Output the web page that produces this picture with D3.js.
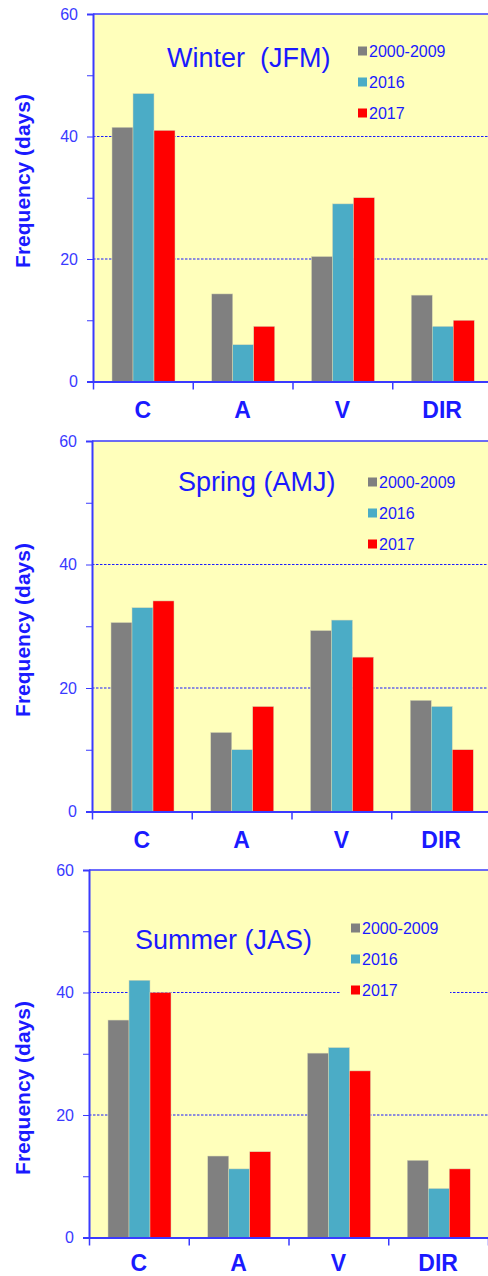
<!DOCTYPE html>
<html>
<head>
<meta charset="utf-8">
<script src="https://cdn.jsdelivr.net/npm/d3@7"></script>
<style>
  body { margin: 0; background: #fff; }
  svg { display: block; font-family: Arial, "Liberation Sans", sans-serif; }
</style>
</head>
<body>
<div id="chart"></div>
<script>
// data
var categories = ["C", "A", "V", "DIR"];
var seriesNames = ["2000-2009", "2016", "2017"];
var seriesColors = ["#808080", "#4bacc6", "#ff0000"];
var yTicks = [0, 20, 40, 60];

var winterBase = [41.5, 14.3, 20.4, 14.1];
var winter2016 = [47, 6, 29, 9];
var winter2017 = [41, 9, 30, 10];

var springBase = [30.6, 12.8, 29.3, 18];
var spring2016 = [33, 10, 31, 17];
var spring2017 = [34.1, 17, 25, 10];

var summerBase = [35.5, 13.3, 30.1, 12.6];
var summer2016 = [42, 11.2, 31, 8];
var summer2017 = [40, 14, 27.2, 11.2];

var blue = "#1a1aff";

var svg = d3.select("#chart").append("svg")
    .attr("width", 488)
    .attr("height", 1276);

// one panel per season
var panels = [
  {title: "Winter  (JFM)", values: [winterBase, winter2016, winter2017],
   top: 14, bottom: 381.5, left: 93, titleX: 167, titleY: 67,
   legX: 358, legY: 51, ytitle: 181, catY: 36, legBox: false},
  {title: "Spring (AMJ)", values: [springBase, spring2016, spring2017],
   top: 441, bottom: 811.5, left: 92, titleX: 178, titleY: 491,
   legX: 368, legY: 482, ytitle: 630, catY: 36, legBox: false},
  {title: "Summer (JAS)", values: [summerBase, summer2016, summer2017],
   top: 870, bottom: 1237.5, left: 89, titleX: 135, titleY: 949,
   legX: 351, legY: 928, ytitle: 1088, catY: 33, legBox: true}
];

panels.forEach(function(p) {
  var w = 399;
  var g = svg.append("g").attr("transform", "translate(" + p.left + ",0)");

  var y = d3.scaleLinear().domain([0, 60]).range([p.bottom, p.top]);
  var x = d3.scaleBand().domain(categories).range([0, w]);
  var x1 = d3.scaleBand().domain(seriesNames).range([19, 82]);

  // plot background
  g.append("rect")
    .attr("x", 0).attr("y", p.top)
    .attr("width", w).attr("height", p.bottom - p.top)
    .attr("fill", "#ffffbb");

  // dashed grid at 20 and 40
  g.selectAll(".grid")
    .data([20, 40])
    .enter().append("line")
    .attr("x1", 0).attr("x2", w)
    .attr("y1", function(d) { return y(d); })
    .attr("y2", function(d) { return y(d); })
    .attr("stroke", blue)
    .attr("stroke-width", 1)
    .attr("stroke-dasharray", "2.5,1.5");

  // top border
  g.append("line")
    .attr("x1", 0).attr("x2", w)
    .attr("y1", p.top).attr("y2", p.top)
    .attr("stroke", "#3a3aff").attr("stroke-width", 1.5);

  // bars
  var rows = categories.map(function(c, i) {
    return seriesNames.map(function(s, j) {
      return {cat: c, name: s, value: p.values[j][i], color: seriesColors[j]};
    });
  });
  g.selectAll(".grp")
    .data(rows)
    .enter().append("g")
    .attr("transform", function(d, i) { return "translate(" + x(categories[i]) + ",0)"; })
    .selectAll("rect")
    .data(function(d) { return d; })
    .enter().append("rect")
    .attr("x", function(d) { return x1(d.name); })
    .attr("y", function(d) { return y(d.value); })
    .attr("width", x1.bandwidth())
    .attr("height", function(d) { return p.bottom - y(d.value); })
    .attr("fill", function(d) { return d.color; })
    .attr("stroke", "#d8d8b0")
    .attr("stroke-width", 0.5);

  // legend box (only summer overlaps the grid)
  if (p.legBox) {
    g.append("rect")
      .attr("x", p.legX - p.left - 11).attr("y", p.legY - 16)
      .attr("width", 110).attr("height", 92)
      .attr("fill", "#ffffbb");
  }

  // legend
  var leg = g.selectAll(".leg")
    .data(seriesNames)
    .enter().append("g")
    .attr("transform", function(d, i) {
      return "translate(" + (p.legX - p.left) + "," + (p.legY + i * 31) + ")";
    });
  leg.append("rect")
    .attr("x", 0).attr("y", -4.5)
    .attr("width", 9).attr("height", 9)
    .attr("fill", function(d, i) { return seriesColors[i]; });
  leg.append("text")
    .attr("x", 11).attr("y", 6)
    .attr("fill", blue)
    .style("font-size", "16px")
    .text(function(d) { return d; });

  // title
  svg.append("text")
    .attr("x", p.titleX).attr("y", p.titleY)
    .attr("fill", blue)
    .style("font-size", "27px")
    .style("white-space", "pre")
    .text(p.title);

  // y axis
  var yAxis = g.append("g")
    .call(d3.axisLeft(y).tickValues([0, 10, 20, 30, 40, 50, 60])
      .tickSize(6)
      .tickFormat(function(d) { return yTicks.indexOf(d) >= 0 ? d : ""; }));
  yAxis.select(".domain").attr("stroke", "#3a3aff").attr("stroke-width", 2);
  yAxis.selectAll(".tick line").attr("stroke", "#3a3aff");
  yAxis.selectAll(".tick text")
    .attr("x", -15)
    .attr("fill", "#3a3aff")
    .style("font-size", "16px")
    .style("font-family", "Arial, 'Liberation Sans', sans-serif");

  // x axis, ticks at category boundaries
  var xAxis = g.append("g")
    .attr("transform", "translate(0," + p.bottom + ")")
    .call(d3.axisBottom(d3.scaleLinear().domain([0, 4]).range([0, w]))
      .tickValues([0, 1, 2, 3, 4]).tickSize(8).tickSizeOuter(0)
      .tickFormat(""));
  xAxis.select(".domain").attr("stroke", "#3a3aff").attr("stroke-width", 2);
  xAxis.selectAll(".tick line").attr("stroke", "#3a3aff").attr("stroke-width", 1.5);

  // category labels
  g.selectAll(".cat")
    .data(categories)
    .enter().append("text")
    .attr("x", function(d) { return x(d) + x.bandwidth() / 2; })
    .attr("y", p.bottom + p.catY)
    .attr("text-anchor", "middle")
    .attr("fill", blue)
    .style("font-size", "23px")
    .style("font-weight", "bold")
    .text(function(d) { return d; });

  // y axis title
  svg.append("text")
    .attr("transform", "translate(30," + p.ytitle + ") rotate(-90)")
    .attr("text-anchor", "middle")
    .attr("fill", blue)
    .style("font-size", "21px")
    .style("font-weight", "bold")
    .text("Frequency (days)");
});
</script>
</body>
</html>
